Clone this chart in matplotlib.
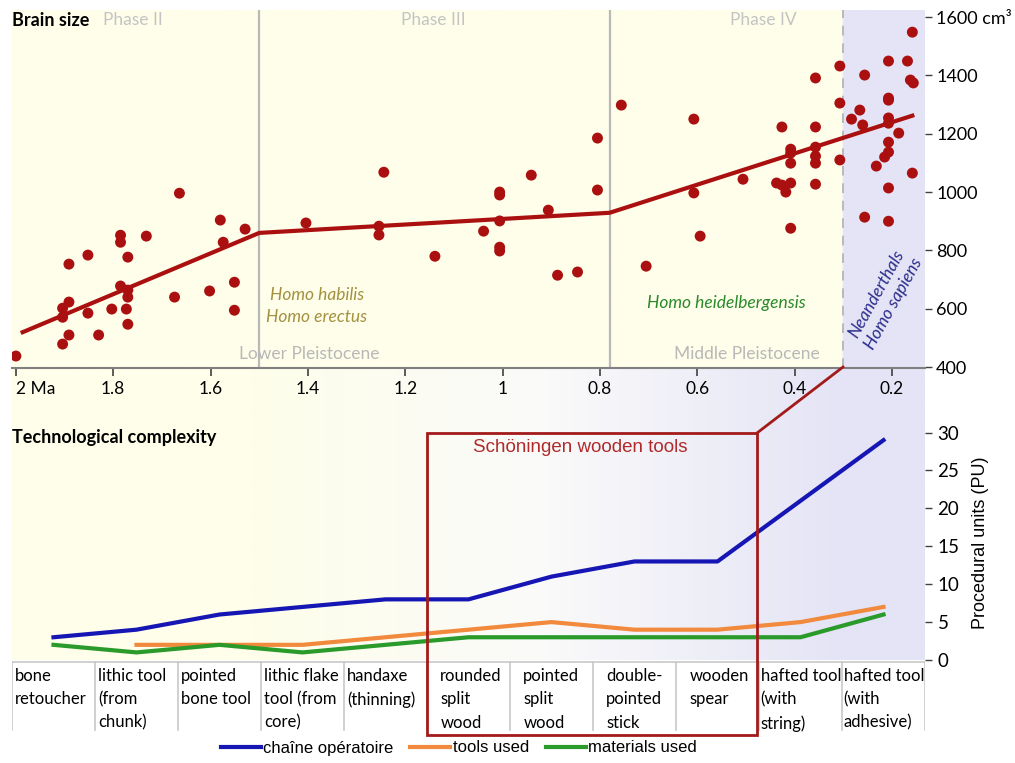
import numpy as np
import matplotlib
matplotlib.use('Agg')
import matplotlib.pyplot as plt
from matplotlib.lines import Line2D
from matplotlib.patches import Rectangle

# ---- data -------------------------------------------------------------
# brain size (cm3) vs. age (Ma)
skull_age = [2.00, 1.664, 1.58, 1.529, 1.404, 1.785, 1.785, 1.732, 1.852, 1.891,
             1.770, 1.574, 1.785, 1.770, 1.770, 1.891, 1.904, 1.904, 1.852, 1.803,
             1.773, 1.770, 1.891, 1.904, 1.830, 1.674, 1.602, 1.551, 1.551,
             0.756, 0.805, 0.805, 1.244, 0.941, 1.006, 1.006, 0.906, 1.006, 1.254,
             1.254, 1.039, 1.139, 1.006, 1.006, 0.887, 0.846, 0.705,
             0.607, 0.607, 0.594, 0.506, 0.426, 0.408, 0.408, 0.408, 0.437, 0.426,
             0.418, 0.408, 0.408, 0.357, 0.357, 0.357, 0.357, 0.357, 0.357, 0.307,
             0.307, 0.307, 0.283, 0.266, 0.260, 0.256, 0.256, 0.232, 0.215, 0.207,
             0.207, 0.207, 0.207, 0.207, 0.207, 0.207, 0.207, 0.207, 0.186, 0.168,
             0.162, 0.156, 0.158, 0.158]
skull_cc = [438, 996, 904, 873, 894, 852, 828, 849, 784, 753,
            777, 828, 678, 664, 640, 623, 602, 571, 585, 599,
            599, 547, 510, 479, 510, 640, 661, 691, 595,
            1298, 1185, 1007, 1068, 1058, 1000, 990, 938, 901, 883,
            853, 866, 780, 811, 798, 715, 726, 746,
            1250, 997, 849, 1044, 1223, 1147, 1134, 1099, 1031, 1024,
            1000, 1031, 876, 1391, 1223, 1154, 1123, 1099, 1027, 1432,
            1305, 1110, 1250, 1281, 1230, 1401, 914, 1089, 1120, 1449,
            1322, 1315, 1254, 1236, 1171, 1137, 1014, 900, 1202, 1449,
            1384, 1374, 1548, 1065]
trend_age = [1.99, 1.50, 0.78, 0.154]
trend_cc = [517, 860, 929, 1264]

phase_bounds = [1.5, 0.78]
modern_bound = 0.3
age_ticks = [2.0, 1.8, 1.6, 1.4, 1.2, 1.0, 0.8, 0.6, 0.4, 0.2]
age_labels = ['2 Ma', '1.8', '1.6', '1.4', '1.2', '1', '0.8', '0.6', '0.4', '0.2']
cc_ticks = [400, 600, 800, 1000, 1200, 1400, 1600]
cc_labels = ['400', '600', '800', '1000', '1200', '1400', '1600 cm³']

# technological complexity (procedural units)
tools = ['bone\nretoucher', 'lithic tool\n(from\nchunk)', 'pointed\nbone tool',
         'lithic flake\ntool (from\ncore)', 'handaxe\n(thinning)', 'rounded\nsplit\nwood',
         'pointed\nsplit\nwood', 'double-\npointed\nstick', 'wooden\nspear',
         'hafted tool\n(with\nstring)', 'hafted tool\n(with\nadhesive)']
chaine = [3, 4, 6, 7, 8, 8, 11, 13, 13, 21, 29]
tools_used = [np.nan, 2, 2, 2, 3, 4, 5, 4, 4, 5, 7]
materials = [2, 1, 2, 1, 2, 3, 3, 3, 3, 3, 6]
pu_ticks = [0, 5, 10, 15, 20, 25, 30]

# ---- layout helpers ---------------------------------------------------
W, H = 1015, 763


def fx(x):
    return x / W


def fy(y):
    return 1 - y / H


CALIBRI = 'Lato'
ARIAL = 'Liberation Sans'
DARKRED = '#ab1010'
CREAM = np.array([254, 254, 234]) / 255
WHITE = np.array([250, 250, 250]) / 255
LAVENDER = np.array([228, 228, 246]) / 255

fig = plt.figure(figsize=(W / 100, H / 100), dpi=100)

# background: cream panel, lavender strip for the last 0.3 Ma,
# soft cream -> white -> lavender wash behind the complexity panel
bg = fig.add_axes([fx(12), fy(660), fx(913), 650 / H])
xs = np.linspace(12, 925, 400)
ys = np.linspace(10, 660, 300)
X, Y = np.meshgrid(xs, ys)
t = np.clip((X - 250) / (843 - 250), 0, 1)
t = np.where(Y < 368, 0.0, t)
t = np.where(X >= 843, 1.0, t)
t3 = t[..., None]
first = CREAM * (1 - 2 * t3) + WHITE * (2 * t3)
second = WHITE * (2 - 2 * t3) + LAVENDER * (2 * t3 - 1)
img = np.where(t3 < 0.5, first, second)
bg.imshow(img, aspect='auto', extent=[0, 1, 0, 1], origin='upper')
bg.axis('off')

# ---- brain size -------------------------------------------------------
ax = fig.add_axes([fx(12), fy(368), fx(913), 358 / H])
ax.set_facecolor('none')
ax.set_xlim(2.008, 0.132)
ax.set_ylim(397, 1624)

for b in phase_bounds:
    ax.axvline(b, color='#b9b9b9', lw=1.6, zorder=1)
ax.axvline(modern_bound, color='#b9b9b9', lw=1.4, ls=(0, (5, 4)), zorder=1)

ax.plot(trend_age, trend_cc, color=DARKRED, lw=3.0, solid_capstyle='butt', zorder=3)
ax.scatter(skull_age, skull_cc, s=62, color=DARKRED, edgecolors='none', zorder=4)

for side in ['top', 'left', 'right']:
    ax.spines[side].set_visible(False)
ax.spines['bottom'].set_color('#808080')
ax.spines['bottom'].set_linewidth(1.5)

ax.set_xticks(age_ticks)
ax.set_xticklabels(age_labels, fontfamily=CALIBRI, fontsize=12.5)
ax.tick_params(axis='x', direction='out', length=6, width=1.2, color='#404040', pad=3)
ax.get_xticklabels()[0].set_horizontalalignment('left')
ax.get_xticklabels()[0].set_x(2.0)

ax.yaxis.tick_right()
ax.set_yticks(cc_ticks)
ax.set_yticklabels(cc_labels, fontfamily=CALIBRI, fontsize=13)
ax.tick_params(axis='y', direction='out', length=5, width=1.0, color='#404040', pad=3)

fig.text(fx(12), fy(20), 'Brain size', fontfamily=CALIBRI, fontweight='bold',
         fontsize=13, va='center', ha='left')
for label, x in [('Phase II', 133), ('Phase III', 433), ('Phase IV', 763)]:
    fig.text(fx(x), fy(20), label, fontfamily=CALIBRI, fontsize=12.5,
             color='#c4c4c4', va='center', ha='center')
fig.text(fx(317), fy(306), 'Homo habilis\nHomo erectus', fontfamily=CALIBRI,
         fontstyle='italic', fontsize=12.5, color='#a3913f', ha='center',
         va='center', linespacing=1.45)
fig.text(fx(309), fy(354), 'Lower Pleistocene', fontfamily=CALIBRI, fontsize=12.5,
         color='#b8b8b8', ha='center', va='center')
fig.text(fx(747), fy(354), 'Middle Pleistocene', fontfamily=CALIBRI, fontsize=12.5,
         color='#b8b8b8', ha='center', va='center')
fig.text(fx(726), fy(303), 'Homo heidelbergensis', fontfamily=CALIBRI,
         fontstyle='italic', fontsize=12.5, color='#2a8a2a', ha='center', va='center')
fig.text(fx(885), fy(299), 'Neanderthals\nHomo sapiens', fontfamily=CALIBRI,
         fontstyle='italic', fontsize=12.5, color='#2c2c8c', ha='center',
         va='center', rotation=61, rotation_mode='anchor', linespacing=1.35)

# ---- technological complexity ----------------------------------------
bx = fig.add_axes([fx(12), fy(660), fx(913), 235 / H])
bx.set_facecolor('none')
bx.set_xlim(-0.5, len(tools) - 0.5)
bx.set_ylim(0, 31.0)
idx = np.arange(len(tools))
l1, = bx.plot(idx, chaine, color='#1616b4', lw=3.0, label='chaîne opératoire')
l2, = bx.plot(idx, tools_used, color='#f28a3e', lw=3.0, label='tools used')
l3, = bx.plot(idx, materials, color='#2a9a2a', lw=3.0, label='materials used')
for side in ['top', 'left', 'right', 'bottom']:
    bx.spines[side].set_visible(False)
bx.set_xticks([])
bx.yaxis.tick_right()
bx.set_yticks(pu_ticks)
bx.set_yticklabels([str(v) for v in pu_ticks], fontfamily=CALIBRI, fontsize=13.5)
bx.tick_params(axis='y', direction='out', length=5, width=1.0, color='#404040', pad=4)
bx.yaxis.set_label_position('right')
bx.set_ylabel('Procedural units (PU)', fontfamily=ARIAL, fontsize=13, labelpad=9)

fig.text(fx(12), fy(438), 'Technological complexity', fontfamily=CALIBRI,
         fontweight='bold', fontsize=13, va='center', ha='left')

# ---- tool table -------------------------------------------------------
tx = fig.add_axes([fx(12), fy(735), fx(913), 75 / H])
tx.set_xlim(-0.5, len(tools) - 0.5)
tx.set_ylim(1, 0)
tx.axis('off')
tx.axhline(0.03, color='#c8c8c8', lw=1.2)
for i in range(len(tools) + 1):
    tx.plot([i - 0.5, i - 0.5], [0.03, 0.93], color='#c8c8c8', lw=1.2)
pads = [0.04] * 5 + [0.16] * 4 + [0.02] * 2
for i, name in enumerate(tools):
    tx.text(i - 0.5 + pads[i], 0.11, name, fontfamily=CALIBRI, fontsize=12,
            ha='left', va='top', linespacing=1.55)

# ---- Schöningen highlight box ----------------------------------------
fig.patches.append(Rectangle((fx(427), fy(735)), fx(757 - 427), (735 - 433) / H,
                             transform=fig.transFigure, fill=False,
                             edgecolor='#a31a1a', lw=2.0, zorder=5))
fig.lines.append(Line2D([fx(757), fx(843)], [fy(433), fy(367)],
                        transform=fig.transFigure, color='#a31a1a', lw=2.0))
fig.text(fx(580), fy(447), 'Schöningen wooden tools', fontfamily=ARIAL,
         fontsize=13.5, color='#b02a2a', ha='center', va='center')

fig.legend(handles=[l1, l2, l3], loc='center', bbox_to_anchor=(fx(459), fy(748)),
           ncol=3, frameon=False, prop={'family': ARIAL, 'size': 12},
           handlelength=2.4, handletextpad=0.15, columnspacing=1.0)

fig.savefig('out.png', dpi=100, facecolor='white')
